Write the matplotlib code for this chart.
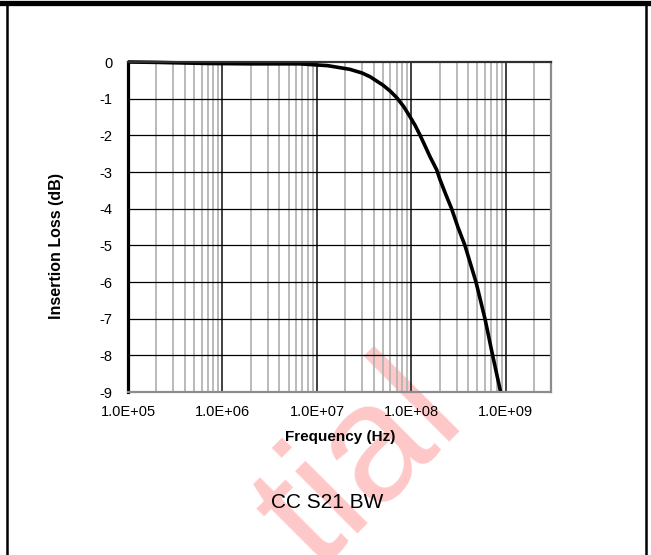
import matplotlib
matplotlib.use("Agg")
import matplotlib.pyplot as plt
from matplotlib.lines import Line2D
from matplotlib.ticker import FixedLocator, NullFormatter

plt.rcParams['font.family'] = ['Liberation Sans', 'DejaVu Sans']

# Data
freq_hz = [1e5, 2e5, 3e5, 7e5, 2e6, 6.6e6, 1.3e7, 2.23e7, 3.0e7, 3.64e7,
           4.99e7, 6.0e7, 7.03e7, 8.3e7, 9.64e7, 1.1e8, 1.23e8, 1.4e8,
           1.57e8, 1.85e8, 2.0e8, 2.3e8, 2.66e8, 3.1e8, 3.68e8,
           4.82e8, 6.0e8, 7.23e8, 8.79e8]
loss_db = [0.0, -0.01, -0.02, -0.04, -0.05, -0.05, -0.1, -0.2, -0.3, -0.4,
           -0.63, -0.8, -0.98, -1.22, -1.49, -1.74, -1.99, -2.3,
           -2.58, -2.94, -3.2, -3.6, -4.0, -4.5, -5.0,
           -6.0, -7.0, -8.0, -9.0]
x_ticks = [1e5, 1e6, 1e7, 1e8, 1e9]
x_tick_labels = ["1.0E+05", "1.0E+06", "1.0E+07", "1.0E+08", "1.0E+09"]
y_ticks = [0, -1, -2, -3, -4, -5, -6, -7, -8, -9]
x_label = "Frequency (Hz)"
y_label = "Insertion Loss (dB)"
caption = "CC S21 BW"
watermark = "tial"

W, H = 651, 555
fig = plt.figure(figsize=(W / 100, H / 100), dpi=100)
fig.patch.set_facecolor('white')

def fx(px):
    return px / W

def fy(py):
    return 1 - py / H

# watermark behind everything
fig.text(fx(468), fy(421), watermark, rotation=45, rotation_mode='anchor',
         ha='right', va='baseline', fontsize=120, color='#ffc8c8', zorder=-5)

left, right, top, bottom = 128, 551, 62, 392
ax = fig.add_axes([fx(left), fy(bottom), (right - left) / W, (bottom - top) / H])
ax.set_facecolor('none')
ax.set_xscale('log')
ax.set_xlim(1e5, 3e9)
ax.set_ylim(-9, 0)

# grid lines
minor = []
for dec in [1e5, 1e6, 1e7, 1e8, 1e9]:
    for m in range(2, 10):
        v = dec * m
        if v < 3e9:
            minor.append(v)
for v in minor:
    ax.axvline(v, color='#b4b4b4', lw=1.3, zorder=1)
for v in x_ticks[1:]:
    ax.axvline(v, color='#202020', lw=1.2, zorder=2)
for v in y_ticks[1:-1]:
    ax.axhline(v, color='black', lw=0.9, zorder=2)

ax.plot(freq_hz, loss_db, color='black', lw=2.6, zorder=4,
        solid_capstyle='butt', solid_joinstyle='round', clip_on=False)

ax.xaxis.set_major_locator(FixedLocator(x_ticks))
ax.set_xticklabels(x_tick_labels)
ax.xaxis.set_minor_locator(FixedLocator(minor))
ax.xaxis.set_minor_formatter(NullFormatter())
ax.set_yticks(y_ticks)
ax.set_yticklabels([str(v) for v in y_ticks])
ax.tick_params(axis='both', which='both', length=0, labelsize=10.5)
ax.tick_params(axis='x', pad=9)
ax.tick_params(axis='y', pad=11)

for s in ['top']:
    ax.spines[s].set_color('#303030')
    ax.spines[s].set_linewidth(1.6)
for s in ['right', 'bottom']:
    ax.spines[s].set_color('#8c8c8c')
    ax.spines[s].set_linewidth(1.6)
ax.spines['left'].set_color('black')
ax.spines['left'].set_linewidth(2.3)
for s in ax.spines.values():
    s.set_zorder(5)

fig.text(fx(340), fy(437), x_label, ha='center', va='center',
         fontsize=11, fontweight='bold')
fig.text(fx(56), fy(246), y_label, ha='center', va='center', rotation=90,
         fontsize=11.5, fontweight='bold')
fig.text(fx(327), fy(503), caption, ha='center', va='center', fontsize=15)

# outer frame
fig.add_artist(Line2D([0, 1], [fy(2.5), fy(2.5)], color='black', lw=3.8,
                      transform=fig.transFigure))
fig.add_artist(Line2D([fx(6.5), fx(6.5)], [0, fy(2)], color='black', lw=1.8,
                      transform=fig.transFigure))
fig.add_artist(Line2D([fx(646), fx(646)], [0, fy(2)], color='black', lw=1.8,
                      transform=fig.transFigure))

fig.savefig('out.png', dpi=100)
